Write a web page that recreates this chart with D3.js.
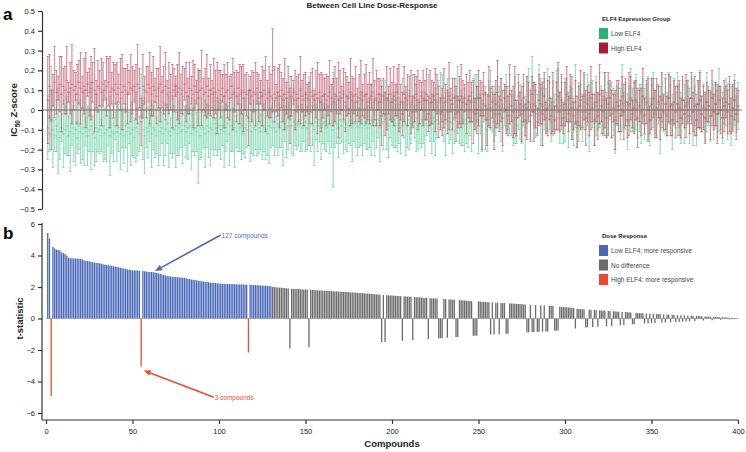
<!DOCTYPE html>
<html><head><meta charset="utf-8">
<script src="https://cdn.jsdelivr.net/npm/d3@7/dist/d3.min.js"></script>
<style>
html,body{margin:0;padding:0;background:#fff;}
svg{display:block;font-family:"Liberation Sans",Arial,Helvetica,sans-serif;}
</style></head>
<body>
<svg id="chart" width="746" height="452"></svg>
<script>
// ---------------- DATA ----------------
// Panel b: t-statistic per compound, sorted by |t| (compound 1..400)
const tStat = [
5.43,5.08,-4.92,4.55,4.45,4.38,4.35,4.33,4.2,4.15,
4.1,4.0,3.85,3.83,3.82,3.82,3.81,3.8,3.8,3.78,
3.75,3.7,3.66,3.65,3.63,3.6,3.58,3.55,3.53,3.52,
3.5,3.48,3.45,3.42,3.4,3.38,3.37,3.35,3.32,3.3,
3.28,3.25,3.22,3.2,3.18,3.15,3.12,3.1,3.08,3.06,
3.05,3.05,3.04,3.03,-3.03,3.02,3.0,2.98,2.97,2.96,
2.95,2.94,2.92,2.9,2.86,2.84,2.8,2.77,2.73,2.7,
2.68,2.66,2.65,2.64,2.63,2.62,2.61,2.6,2.59,2.57,
2.55,2.52,2.5,2.48,2.46,2.44,2.42,2.4,2.39,2.37,
2.35,2.33,2.32,2.3,2.28,2.27,2.26,2.25,2.23,2.22,
2.21,2.21,2.2,2.2,2.19,2.19,2.18,2.18,2.17,2.17,
2.17,2.16,2.16,2.16,2.15,2.15,-2.16,2.14,2.13,2.12,
2.12,2.11,2.1,2.1,2.09,2.08,2.08,2.07,2.06,2.05,
2.0,1.99,1.98,1.97,1.96,1.95,1.94,1.93,1.92,1.91,
-1.9,1.89,1.88,1.88,1.87,1.86,1.86,1.85,1.84,1.84,
1.83,-1.82,1.82,1.81,1.8,1.8,1.79,1.78,1.78,1.77,
1.76,1.76,1.75,1.74,1.74,1.73,1.72,1.72,1.71,1.7,
1.7,1.69,1.68,1.68,1.67,1.66,1.65,1.65,1.64,1.63,
1.62,1.62,1.61,1.6,1.59,1.58,1.57,1.56,1.55,1.54,
1.53,1.52,1.51,-1.5,1.5,-1.49,1.48,1.47,1.46,1.46,
1.45,1.44,1.43,1.43,1.42,-1.42,1.41,1.4,1.39,1.38,
1.38,-1.37,1.36,1.35,1.34,1.34,1.33,1.32,1.31,1.31,
-1.3,1.29,1.28,1.28,1.27,1.26,-1.26,-1.25,-1.25,1.24,
1.23,-1.22,1.21,1.2,1.2,1.19,-1.18,-1.18,1.17,1.16,
1.15,1.14,1.13,1.12,1.11,1.1,-1.1,-1.09,-1.09,1.08,
1.07,1.06,1.05,1.04,1.04,1.03,-1.02,1.02,-1.01,1.01,
1.0,-1.0,0.99,0.98,0.98,-0.97,-0.97,0.96,0.95,0.95,
0.94,0.93,0.92,0.92,0.91,0.9,0.89,-0.88,-0.88,0.87,
-0.87,-0.86,0.86,-0.85,-0.85,0.84,-0.84,0.83,-0.83,-0.82,
0.81,0.8,0.79,-0.78,-0.77,-0.76,0.75,0.74,0.73,0.72,
0.71,0.7,0.69,0.68,0.67,-0.64,0.62,0.61,0.6,0.59,
0.58,-0.57,-0.56,0.56,0.55,-0.55,0.54,0.53,-0.53,0.52,
0.51,0.5,0.5,-0.49,0.48,0.47,-0.47,0.46,0.45,0.44,
0.43,-0.43,0.42,-0.42,0.41,0.4,0.39,0.38,-0.37,-0.36,
0.36,0.35,0.34,0.34,0.33,-0.32,0.32,-0.31,0.31,-0.3,
0.3,-0.29,0.29,0.28,0.27,-0.26,0.26,-0.25,0.25,0.24,
-0.24,0.23,0.23,-0.22,0.22,-0.21,0.21,-0.2,0.2,-0.19,
0.19,-0.18,0.17,0.16,-0.16,0.15,0.15,0.14,0.14,-0.13,
0.13,0.12,0.12,0.11,-0.11,0.1,0.1,0.09,0.09,-0.08,
0.08,0.07,0.07,0.06,-0.06,0.05,0.04,0.03,0.03,0.02];
const nSignificant = 130;   // first 130 compounds significant (127 blue + 3 red)

// Panel a: IC50 Z-score (values in hundredths) mean and error half-width per compound
const highMean = [
5,12,-5,10,14,9,11,13,8,12,10,15,9,11,13,10,12,8,14,11,
9,12,10,13,9,11,14,10,8,12,11,9,13,10,12,14,9,11,10,13,
8,11,13,9,12,10,8,14,11,10,12,9,13,11,-6,12,10,9,13,11,
8,12,10,7,11,13,9,10,12,8,11,9,7,10,12,9,11,8,10,13,
9,7,11,10,8,12,9,6,10,11,8,9,12,7,10,8,11,9,6,10,
8,11,7,9,10,6,12,8,9,7,11,8,10,6,9,8,-4,10,7,9,
8,11,6,9,7,10,8,6,9,7,20,8,6,9,7,10,5,8,6,9,
-3,7,9,5,8,6,10,7,5,8,6,-2,9,7,5,8,6,9,4,7,
8,5,7,9,6,4,8,7,5,9,6,8,4,7,6,9,5,7,8,4,
6,9,5,7,8,4,6,7,9,5,6,8,4,-3,7,-2,6,5,8,4,
7,5,9,6,4,-2,8,6,5,7,4,-1,6,8,5,4,7,6,5,8,
-2,6,4,7,5,8,-1,-2,-1,6,4,-1,7,5,3,6,-2,-1,5,7,
4,6,3,5,7,4,-1,-2,0,6,6,-3,8,2,-5,7,1,4,-6,3,
9,-2,5,-4,6,0,-3,8,2,-1,5,-4,7,3,-2,6,-5,1,4,-3,
8,-1,2,-6,5,3,-2,7,-4,1,6,-3,4,-5,2,7,-1,5,-4,3,
8,-2,6,1,-3,4,-6,2,5,-1,7,-4,3,-2,6,1,-5,4,-3,8,
2,-1,5,-4,3,6,-2,1,-5,4,2,-3,7,-1,4,-5,3,6,-2,1,
5,-4,2,-1,7,-3,4,0,-5,3,6,-2,1,4,-4,5,-1,3,-3,6,
2,-5,4,-1,3,1,-4,5,-2,2,4,-3,6,-1,2,-5,3,5,-2,1,
-4,4,2,-3,6,-1,3,-2,5,0,-4,2,4,-1,3,-3,1,5,-2,2];
const highErr = [
22,16,15,8,18,11,6,14,19,9,12,17,5,13,20,10,7,15,11,18,
8,14,19,6,12,16,10,21,7,13,9,17,11,5,15,12,18,8,14,10,
16,7,13,19,9,11,15,6,17,12,8,14,20,10,12,16,7,13,9,18,
11,15,6,14,10,19,8,12,17,7,13,9,16,11,5,14,18,10,12,8,
15,9,13,7,17,11,6,14,10,19,8,12,16,9,13,7,15,11,18,10,
12,7,16,9,14,11,6,18,10,13,8,15,12,17,9,11,14,7,13,10,
16,8,12,6,15,10,19,9,13,11,21,14,7,12,16,9,11,18,8,13,
14,10,6,15,9,12,17,8,13,11,7,16,10,14,5,12,18,9,15,11,
8,13,10,16,7,12,14,9,19,11,6,13,15,10,8,17,12,9,14,7,
12,16,8,11,15,9,13,6,17,10,14,8,12,15,9,11,16,7,13,10,
15,8,12,17,9,11,14,6,13,10,16,8,12,9,15,11,7,14,10,13,
9,14,11,7,16,10,13,8,12,15,9,11,17,6,13,10,14,8,12,16,
11,7,15,9,13,10,16,8,12,14,9,17,11,7,13,15,10,8,14,12,
16,9,11,14,7,12,10,15,8,13,17,9,11,6,14,12,8,16,10,13,
9,15,11,7,13,10,16,12,8,14,11,9,15,7,12,17,10,13,8,11,
14,9,12,16,7,11,13,10,15,8,12,14,9,11,16,7,13,10,12,15,
8,11,14,10,16,9,12,7,15,11,13,8,10,14,12,9,16,11,7,13,
10,15,8,12,14,9,11,16,7,13,10,12,15,8,11,14,9,13,10,12,
15,8,11,13,9,14,10,12,7,16,11,9,13,10,15,8,12,14,9,11,
13,10,8,12,14,9,11,15,7,12,10,13,8,11,14,9,12,10,13,8];
const lowMean = [
-9,-12,8,-10,-13,-8,-11,-14,-9,-12,-10,-8,-13,-11,-9,-12,-10,-14,-8,-11,
-12,-9,-11,-13,-10,-8,-12,-14,-9,-11,-10,-13,-8,-12,-10,-9,-13,-11,-12,-8,
-11,-9,-12,-10,-13,-8,-11,-9,-12,-10,-14,-9,-11,-12,7,-10,-13,-9,-11,-8,
-12,-9,-10,-13,-8,-11,-9,-12,-10,-7,-11,-13,-9,-10,-8,-12,-9,-11,-10,-8,
-11,-9,-8,-12,-10,-9,-11,-8,-13,-9,-10,-12,-8,-11,-9,-10,-7,-12,-9,-8,
-10,-8,-11,-9,-7,-12,-8,-10,-9,-11,-7,-9,-8,-12,-9,-10,6,-8,-11,-9,
-10,-7,-9,-11,-8,-9,-10,-12,-8,-9,-6,-9,-11,-7,-8,-6,-10,-7,-9,-8,
6,-8,-6,-9,-7,-8,-5,-9,-8,-6,-9,5,-7,-8,-10,-6,-8,-5,-9,-7,
-6,-9,-7,-5,-8,-10,-6,-7,-9,-5,-8,-6,-9,-7,-8,-5,-9,-6,-7,-8,
-9,-5,-7,-8,-6,-9,-7,-5,-6,-8,-7,-5,-9,4,-6,5,-7,-8,-5,-6,
-5,-8,-4,-7,-9,4,-5,-7,-8,-5,-7,5,-6,-4,-8,-7,-5,-6,-7,-4,
5,-6,-7,-4,-6,-5,4,5,6,-6,-7,5,-4,-6,-7,-5,6,5,-6,-4,
-6,-5,-7,-6,-4,-6,5,4,6,-5,-2,-8,3,-4,-10,3,5,-1,-2,-2,
4,2,0,-9,1,4,1,3,-3,-5,0,-8,2,-1,-6,2,-9,5,8,-6,
12,3,-2,-2,9,-1,2,3,0,5,2,-6,1,-1,5,10,-4,2,-7,0,
5,-5,3,-2,-6,7,-9,-1,2,-4,4,-1,5,-4,4,3,-7,2,-1,5,
0,-3,3,-2,1,4,0,-1,-7,2,0,-2,6,0,2,-6,2,5,0,2,
4,-5,1,-2,5,-2,3,1,-6,4,5,-1,0,3,-5,6,-2,3,-2,6,
3,-6,4,0,3,2,-4,5,-2,3,3,-3,6,-1,2,-5,3,5,-2,2,
-4,4,2,-3,6,-1,3,-2,5,0,-4,2,4,-1,3,-3,1,5,-2,2];
const lowErr = [
16,9,14,19,8,13,21,11,7,17,12,15,10,20,9,14,18,8,12,16,
13,19,7,15,11,22,9,14,17,10,12,8,18,13,16,9,20,11,14,7,
15,12,18,9,14,11,20,8,16,13,10,17,12,9,11,15,19,10,13,8,
17,11,14,9,20,12,8,16,13,10,18,9,15,12,21,11,14,8,17,10,
13,16,9,18,11,14,10,29,12,15,9,17,11,13,19,10,16,8,14,12,
15,10,18,12,9,16,13,11,20,8,14,12,17,10,15,9,12,18,11,14,
10,16,13,9,17,12,15,11,19,10,12,14,8,16,11,13,18,9,15,12,
11,14,17,9,13,10,16,12,8,15,11,12,14,10,18,9,13,11,16,10,
14,12,9,17,11,29,13,10,15,12,8,16,11,14,9,13,17,10,12,15,
10,13,16,9,14,11,12,18,10,15,12,9,17,11,14,10,13,16,9,12,
14,11,17,10,13,12,9,16,11,15,10,13,8,17,12,10,14,11,16,9,
13,10,15,12,17,9,11,14,12,10,16,11,13,9,15,12,10,17,11,14,
12,16,10,13,9,15,11,14,12,17,10,13,9,16,11,12,15,10,14,11,
13,10,16,12,9,14,11,15,10,13,17,9,12,14,11,10,16,12,13,9,
15,11,12,10,14,17,9,13,11,16,12,10,14,9,15,11,13,12,10,16,
11,14,9,13,12,16,10,15,11,12,14,9,13,17,10,12,11,15,9,14,
12,10,16,11,13,9,14,12,15,10,11,13,17,9,12,14,10,16,11,13,
14,9,12,15,11,13,10,16,12,9,14,11,13,10,17,12,9,15,11,13,
10,14,12,9,16,11,13,10,15,12,9,14,11,17,10,13,12,15,9,11,
12,15,10,13,9,14,11,12,16,10,13,9,12,14,10,15,11,13,9,12];

const yTicksA = [0.5,0.4,0.3,0.2,0.1,0,-0.1,-0.2,-0.3,-0.4,-0.5];
const yTicksB = [6,4,2,0,-2,-4,-6];
const xTicks = [0,50,100,150,200,250,300,350,400];
const legendA = ["Low ELF4","High ELF4"];
const legendB = ["Low ELF4: more responsive","No difference","High ELF4: more responsive"];
const annotations = ["127 compounds","3 compounds"];

// ---------------- DRAW ----------------
const svg = d3.select("#chart");
const C = {green:"#34c283", greenPale:"#b8ead3", red:"#b42a44", redPale:"#e3adb8",
           blue:"#4a68b8", gray:"#6b6b6b", orange:"#ef4a2f", axis:"#333"};

const x = d3.scaleLinear().domain([0,400]).range([46,738]);
const yA = d3.scaleLinear().domain([-0.5,0.5]).range([209,11]);
const yB = d3.scaleLinear().domain([-6,6]).range([413,224]);
const n = tStat.length;
const idx = d3.range(1, n+1);

// panel letters and title
svg.append("text").attr("x",3).attr("y",20).attr("font-size",17).attr("font-weight","bold").text("a");
svg.append("text").attr("x",3).attr("y",239).attr("font-size",17).attr("font-weight","bold").text("b");
svg.append("text").attr("x",372).attr("y",8).attr("text-anchor","middle").attr("font-size",8)
  .attr("font-weight","bold").attr("fill","#222").text("Between Cell Line Dose-Response");

// ---- panel a error bars ----
function groupBars(means, errs, dark, pale, cls){
  const g = svg.append("g").attr("class",cls);
  const data = idx.map(i => ({i, m:(means[i-1]||0)/100, e:(errs[i-1]||0)/100}));
  const w = 1.3;
  g.selectAll("rect").data(data).join("rect")
    .attr("x", d => x(d.i)-w/2).attr("width", w)
    .attr("y", d => yA(d.m+d.e)).attr("height", d => yA(d.m-d.e)-yA(d.m+d.e))
    .attr("fill", pale).attr("opacity",0.45);
  g.selectAll("line.v").data(data).join("line").attr("class","v")
    .attr("x1", d=>x(d.i)).attr("x2", d=>x(d.i))
    .attr("y1", d=>yA(d.m+d.e)).attr("y2", d=>yA(d.m-d.e))
    .attr("stroke", dark).attr("stroke-width",0.55).attr("opacity",0.85);
  [["t",1],["b",-1],["m",0]].forEach(([k,s])=>{
    g.selectAll("line.c"+k).data(data).join("line").attr("class","c"+k)
      .attr("x1", d=>x(d.i)-1.4).attr("x2", d=>x(d.i)+1.4)
      .attr("y1", d=>yA(d.m+s*d.e)).attr("y2", d=>yA(d.m+s*d.e))
      .attr("stroke", dark).attr("stroke-width",0.6).attr("opacity",0.8);
  });
}
groupBars(lowMean, lowErr, C.green, C.greenPale, "low");
groupBars(highMean, highErr, C.red, C.redPale, "high");
svg.append("line").attr("x1",42).attr("x2",x(400)+4).attr("y1",yA(0)).attr("y2",yA(0))
  .attr("stroke","#6a6a6a").attr("stroke-width",1);

// axis a
const axA = svg.append("g").attr("transform","translate(42,0)")
  .call(d3.axisLeft(yA).tickValues(yTicksA).tickSize(4).tickSizeOuter(0)
    .tickFormat(d => d===0 ? "0" : d3.format(".1f")(d)));
axA.select(".domain").attr("stroke",C.axis).attr("stroke-width",1.2);
axA.selectAll(".tick line").attr("stroke",C.axis).attr("stroke-width",1.2);
axA.selectAll(".tick text").attr("font-size",7.5).attr("fill","#222").attr("x",-7);
axA.attr("font-family",null);

const yl = svg.append("text").attr("transform","translate(17,110) rotate(-90)")
  .attr("text-anchor","middle").attr("font-size",9.5).attr("font-weight","bold").attr("fill","#222");
yl.append("tspan").text("IC");
yl.append("tspan").attr("font-size",6.5).attr("dy",3).text("50");
yl.append("tspan").attr("dy",-3).text(" Z-score");

// legend a
const la = svg.append("g").attr("transform","translate(599,0)");
la.append("text").attr("x",3).attr("y",21).attr("font-size",6).attr("font-weight","bold").attr("fill","#222").text("ELF4 Expression Group");
["#27b46e","#a31c33"].forEach((c,k)=>{
  la.append("rect").attr("x",0).attr("y",28+k*14.5).attr("width",9).attr("height",11).attr("fill",c);
  la.append("text").attr("x",12).attr("y",36+k*14.5).attr("font-size",6.5).attr("fill","#444").text(legendA[k]);
});

// ---- panel b bars ----
const colorOf = (t,i) => i > nSignificant ? C.gray : (t >= 0 ? C.blue : C.orange);
const bw = 1.3;
svg.append("g").selectAll("rect").data(idx).join("rect")
  .attr("x", i => x(i)-bw/2).attr("width", bw)
  .attr("y", i => yB(Math.max(0,tStat[i-1])))
  .attr("height", i => Math.abs(yB(tStat[i-1])-yB(0)))
  .attr("fill", i => colorOf(tStat[i-1], i));
svg.append("line").attr("x1",x(0)).attr("x2",x(400)).attr("y1",yB(0)).attr("y2",yB(0))
  .attr("stroke","#8a8a8a").attr("stroke-width",0.6);

// axis b
const axB = svg.append("g").attr("transform","translate(42,0)")
  .call(d3.axisLeft(yB).tickValues(yTicksB).tickSize(4).tickSizeOuter(0).tickFormat(d3.format("d")));
axB.select(".domain").remove();
axB.selectAll(".tick line").attr("stroke",C.axis).attr("stroke-width",1.2);
axB.selectAll(".tick text").attr("font-size",7.5).attr("fill","#222").attr("x",-7);
axB.attr("font-family",null);
svg.append("line").attr("x1",42).attr("x2",42).attr("y1",yB(6)-1).attr("y2",420).attr("stroke",C.axis).attr("stroke-width",1.2);
svg.append("line").attr("x1",42).attr("x2",x(400)).attr("y1",420).attr("y2",420).attr("stroke",C.axis).attr("stroke-width",1.2);
const axX = svg.append("g").attr("transform","translate(0,420)")
  .call(d3.axisBottom(x).tickValues(xTicks).tickSize(4).tickSizeOuter(0).tickFormat(d3.format("d")));
axX.select(".domain").remove();
axX.selectAll(".tick line").attr("stroke",C.axis).attr("stroke-width",1.2);
axX.selectAll(".tick text").attr("font-size",7.5).attr("fill","#222").attr("y",9);
axX.attr("font-family",null);

svg.append("text").attr("x",x(200)).attr("y",447).attr("text-anchor","middle")
  .attr("font-size",9.5).attr("font-weight","bold").attr("fill","#222").text("Compounds");
svg.append("text").attr("transform","translate(23,"+yB(0)+") rotate(-90)")
  .attr("text-anchor","middle").attr("font-size",9.5).attr("font-weight","bold").attr("fill","#222").text("t-statistic");

// legend b
const lb = svg.append("g").attr("transform","translate(599,0)");
lb.append("text").attr("x",3).attr("y",238).attr("font-size",6).attr("font-weight","bold").attr("fill","#222").text("Dose Response");
[C.blue,C.gray,C.orange].forEach((c,k)=>{
  lb.append("rect").attr("x",0).attr("y",245+k*14.5).attr("width",9).attr("height",11).attr("fill",c);
  lb.append("text").attr("x",12).attr("y",253+k*14.5).attr("font-size",6.5).attr("fill","#444").text(legendB[k]);
});

// annotations
function arrow(x1,y1,x2,y2,color){
  const ang = Math.atan2(y2-y1,x2-x1), L=7, W=3;
  const bx = x2 - L*Math.cos(ang), by = y2 - L*Math.sin(ang);
  svg.append("line").attr("x1",x1).attr("y1",y1).attr("x2",bx).attr("y2",by)
    .attr("stroke",color).attr("stroke-width",1.6);
  const px = -Math.sin(ang)*W, py = Math.cos(ang)*W;
  svg.append("path").attr("d",`M${x2},${y2}L${bx+px},${by+py}L${bx-px},${by-py}Z`).attr("fill",color);
}
arrow(x(101), yB(5.3), x(63), yB(3.02), C.blue);
svg.append("text").attr("x",x(101.5)).attr("y",yB(5.3)+2.5).attr("font-size",6.5).attr("fill","#4f6fc4").text(annotations[0]);
arrow(x(97), yB(-5.0), x(56.5), yB(-3.3), C.orange);
svg.append("text").attr("x",x(97.5)).attr("y",yB(-5.0)+3).attr("font-size",6.5).attr("fill",C.orange).text(annotations[1]);
</script>
</body></html>
